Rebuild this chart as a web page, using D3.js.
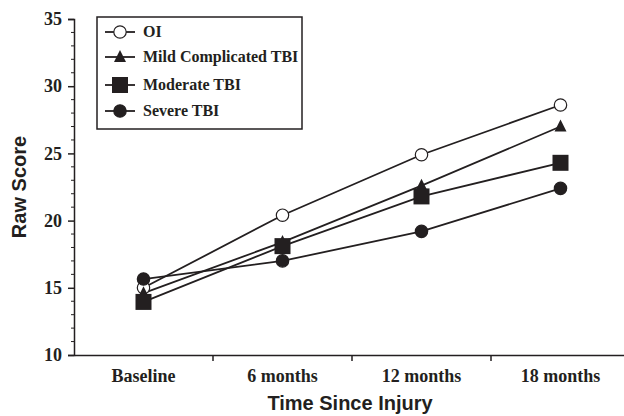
<!DOCTYPE html>
<html>
<head>
<meta charset="utf-8">
<script src="https://cdn.jsdelivr.net/npm/d3@7"></script>
<style>
  body { margin: 0; background: #fff; }
  svg { display: block; }
</style>
</head>
<body>
<div id="chart"></div>
<script>
var categories = ["Baseline", "6 months", "12 months", "18 months"];
var seriesNames = ["OI", "Mild Complicated TBI", "Moderate TBI", "Severe TBI"];
var oiValues = [15.0, 20.4, 24.9, 28.6];
var mildValues = [14.6, 18.4, 22.6, 27.0];
var moderateValues = [13.95, 18.1, 21.8, 24.3];
var severeValues = [15.65, 17.0, 19.2, 22.4];
var yTicks = [10, 15, 20, 25, 30, 35];

var series = [
  {name: seriesNames[0], values: oiValues, shape: "circle", fill: "#fff"},
  {name: seriesNames[1], values: mildValues, shape: "triangle", fill: "#231f20"},
  {name: seriesNames[2], values: moderateValues, shape: "square", fill: "#231f20"},
  {name: seriesNames[3], values: severeValues, shape: "circleFilled", fill: "#231f20"}
];

var width = 624, height = 416;
var margin = {top: 19, right: -6, bottom: 61, left: 74};//axis runs off the right edge like the original

var svg = d3.select("#chart").append("svg")
  .attr("width", width)
  .attr("height", height);

var g = svg.append("g")
  .attr("transform", "translate(" + margin.left + "," + margin.top + ")");

var innerW = width - margin.left - margin.right,
    innerH = height - margin.top - margin.bottom;

var x = d3.scaleBand().domain(categories).range([0, innerW]);
var y = d3.scaleLinear().domain([10, 35]).range([innerH, 0]);

var ink = "#231f20";
var tickFont = "'Liberation Serif', 'Times New Roman', serif";
var titleFont = "'Liberation Sans', Arial, sans-serif";

// y axis with minor ticks
var yAxis = g.append("g")
  .call(d3.axisLeft(y).tickValues(yTicks).tickSize(6).tickPadding(6));
yAxis.select(".domain").attr("stroke", ink).attr("stroke-width", 1.5);
yAxis.selectAll(".tick line").attr("stroke", ink).attr("stroke-width", 1.5);
yAxis.selectAll(".tick text")
  .attr("font-family", tickFont).attr("font-weight", "bold")
  .attr("font-size", 18).attr("fill", ink);

var minor = d3.range(10, 36).filter(function(d) { return d % 5 !== 0; });
g.append("g").selectAll("line").data(minor).enter().append("line")
  .attr("x1", -3).attr("x2", 0)
  .attr("y1", function(d) { return y(d); })
  .attr("y2", function(d) { return y(d); })
  .attr("stroke", ink).attr("stroke-width", 1);

// x axis, ticks at band boundaries
var xAxis = g.append("g")
  .attr("transform", "translate(0," + innerH + ")")
  .call(d3.axisBottom(x).tickSize(0).tickPadding(14));
xAxis.select(".domain").attr("stroke", ink).attr("stroke-width", 1.5);
xAxis.selectAll(".tick text")
  .attr("font-family", tickFont).attr("font-weight", "bold")
  .attr("font-size", 18).attr("fill", ink);
xAxis.selectAll("line.bound").data(categories.slice(1)).enter().append("line")
  .attr("class", "bound")
  .attr("x1", function(d) { return x(d); })
  .attr("x2", function(d) { return x(d); })
  .attr("y1", 0).attr("y2", 6)
  .attr("stroke", ink).attr("stroke-width", 1.5);

// axis titles
svg.append("text")
  .attr("transform", "translate(26," + (margin.top + innerH / 2) + ") rotate(-90)")
  .attr("text-anchor", "middle")
  .attr("font-family", titleFont).attr("font-weight", "bold")
  .attr("font-size", 20).attr("fill", ink)
  .text("Raw Score");

svg.append("text")
  .attr("x", 350).attr("y", 410)
  .attr("text-anchor", "middle")
  .attr("font-family", titleFont).attr("font-weight", "bold")
  .attr("font-size", 20).attr("fill", ink)
  .text("Time Since Injury");

function drawMarker(sel, shape, fill) {
  if (shape === "circle" || shape === "circleFilled") {
    sel.append("circle").attr("r", 6.2)
      .attr("fill", fill).attr("stroke", ink).attr("stroke-width", 1.2);
  } else if (shape === "square") {
    sel.append("rect").attr("x", -8).attr("y", -8).attr("width", 16).attr("height", 16)
      .attr("fill", fill);
  } else if (shape === "triangle") {
    sel.append("path").attr("d", "M0,-7L6,5L-6,5Z").attr("fill", fill);
  }
}

var line = d3.line()
  .x(function(d, i) { return x(categories[i]) + x.bandwidth() / 2; })
  .y(function(d) { return y(d); });

// lines first, then markers on top
series.forEach(function(s) {
  g.append("path").datum(s.values)
    .attr("d", line)
    .attr("fill", "none").attr("stroke", ink).attr("stroke-width", 1.8);
});

series.forEach(function(s) {
  s.values.forEach(function(v, i) {
    var m = g.append("g")
      .attr("transform", "translate(" + (x(categories[i]) + x.bandwidth() / 2) + "," + y(v) + ")");
    drawMarker(m, s.shape, s.fill);
  });
});

// legend
var legend = svg.append("g").attr("transform", "translate(97,17)");
legend.append("rect")
  .attr("width", 205).attr("height", 112)
  .attr("fill", "#fff").attr("stroke", ink).attr("stroke-width", 1.5);

var legendY = [15, 40, 68, 94];
series.forEach(function(s, i) {
  var row = legend.append("g").attr("transform", "translate(0," + legendY[i] + ")");
  row.append("line").attr("x1", 8).attr("x2", 38)
    .attr("stroke", ink).attr("stroke-width", 1.8);
  var m = row.append("g").attr("transform", "translate(23,0)");
  drawMarker(m, s.shape, s.fill);
  row.append("text")
    .attr("x", 46).attr("y", 5)
    .attr("font-family", tickFont).attr("font-weight", "bold")
    .attr("font-size", 16).attr("fill", ink)
    .text(s.name);
});
</script>
</body>
</html>
